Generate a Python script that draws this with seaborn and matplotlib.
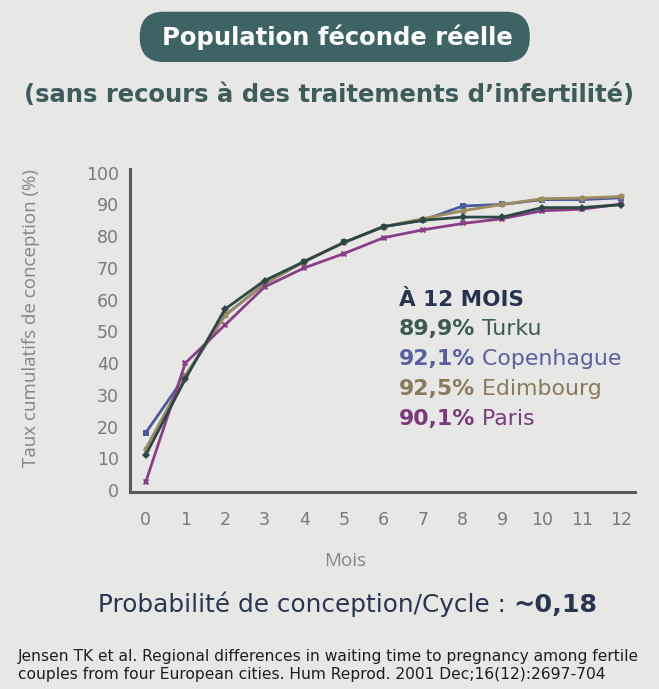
import matplotlib
matplotlib.use("Agg")
import matplotlib.pyplot as plt
import pandas as pd
import seaborn as sns
from matplotlib.patches import FancyBboxPatch

# data
months = list(range(13))
turku = [11, 35, 57, 66, 72, 78, 83, 85, 86, 86, 89, 89, 89.9]
copenhague = [18, 36, 55, 65, 72, 78, 83, 85, 89.5, 90, 91.5, 91.5, 92.1]
edimbourg = [13, 36, 55, 65, 72, 78, 83, 85.5, 88, 90, 91.8, 92, 92.5]
paris = [2.5, 40, 52, 64, 70, 74.5, 79.5, 82, 84, 85.5, 88, 88.5, 90.1]

cities = ["Copenhague", "Edimbourg", "Paris", "Turku"]
at_12 = ["92,1%", "92,5%", "90,1%", "89,9%"]
colors = {
    "Turku": "#2c4744",
    "Copenhague": "#4a5aa0",
    "Edimbourg": "#9c8c5e",
    "Paris": "#8a3e88",
}
text_colors = {
    "Turku": "#3b5a52",
    "Copenhague": "#5a5fa2",
    "Edimbourg": "#8a7a5c",
    "Paris": "#7a3a7c",
}
markers = {"Turku": "D", "Copenhague": "s", "Edimbourg": "o", "Paris": "X"}

BG = "#e7e7e5"


def main() -> None:
    values = {"Turku": turku, "Copenhague": copenhague,
              "Edimbourg": edimbourg, "Paris": paris}
    df = pd.DataFrame(
        [(m, c, v) for c in cities for m, v in zip(months, values[c])],
        columns=["Mois", "Ville", "Taux"],
    )

    sns.set_theme(style="white")
    plt.rcParams["font.family"] = ["DejaVu Sans"]

    fig = plt.figure(figsize=(6.59, 6.89), dpi=100, facecolor=BG)
    ax = fig.add_axes([0.197, 0.286, 0.767, 0.468], facecolor=BG)

    sns.lineplot(
        data=df, x="Mois", y="Taux", hue="Ville", style="Ville",
        hue_order=cities, style_order=cities,
        palette=colors, markers=markers, dashes=False,
        linewidth=2, markersize=4.5, markeredgewidth=0,
        legend=False, ax=ax,
    )

    ax.set_xlim(-0.4, 12.35)
    ax.set_ylim(-0.6, 101)
    ax.set_xticks(months)
    ax.set_yticks(range(0, 101, 10))
    ax.tick_params(axis="y", length=0, labelsize=12.5, labelcolor="#7a7a7a",
                   pad=8)
    ax.tick_params(axis="x", length=0, labelsize=12.5, labelcolor="#7a7a7a",
                   pad=14)
    for s in ["top", "right"]:
        ax.spines[s].set_visible(False)
    for s in ["left", "bottom"]:
        ax.spines[s].set_color("#5a5a5a")
        ax.spines[s].set_linewidth(2.2)
    ax.set_xlabel("Mois", fontsize=13.5, color="#858585",
                  family="Open Sans")
    ax.xaxis.set_label_coords(0.426, -0.185)
    ax.set_ylabel("Taux cumulatifs de conception (%)", fontsize=13.5,
                  color="#858585", family="Open Sans")
    ax.yaxis.set_label_coords(-0.178, 0.54)

    # title banner
    banner = FancyBboxPatch(
        (0.212, 0.910), 0.592, 0.073,
        boxstyle="round,pad=0,rounding_size=0.036",
        transform=fig.transFigure, facecolor="#3e6365",
        edgecolor="none",
    )
    fig.patches.append(banner)
    fig.text(0.512, 0.946, "Population féconde réelle", ha="center",
             va="center", fontsize=17.5, fontweight="bold", color="white")
    fig.text(0.5, 0.862, "(sans recours à des traitements d\u2019infertilité)",
             ha="center", va="center", fontsize=17.5, fontweight="bold",
             color="#3e5c5c")

    # annotation block
    ax.text(0.532, 0.578, "À 12 MOIS", transform=ax.transAxes,
            fontsize=15.5, fontweight="bold", color="#28334f",
            va="baseline")
    order = ["Turku", "Copenhague", "Edimbourg", "Paris"]
    pct = dict(zip(cities, at_12))
    for i, c in enumerate(order):
        y = 0.488 - i * 0.093
        t = ax.text(0.532, y, pct[c], transform=ax.transAxes,
                    fontsize=15.8, fontweight="bold", color=text_colors[c],
                    va="baseline")
        ax.annotate(" " + c, xy=(1, 0), xycoords=t, va="bottom",
                    fontsize=15.8, color=text_colors[c])

    # probability line
    p = fig.text(0.148, 0.112, "Probabilité de conception/Cycle : ",
                 fontsize=17.8, color="#2a3550", va="baseline")
    ax.annotate("~0,18", xy=(1, 0), xycoords=p, va="bottom",
                fontsize=18.3, fontweight="bold", color="#2a3550",
                annotation_clip=False)

    fig.text(0.027, 0.014,
             "Jensen TK et al. Regional differences in waiting time to "
             "pregnancy among fertile\ncouples from four European cities. "
             "Hum Reprod. 2001 Dec;16(12):2697-704",
             fontsize=11.2, color="#1e1e1e", va="baseline", linespacing=1.3)

    fig.savefig("out.png", dpi=100, facecolor=BG)


if __name__ == "__main__":
    main()
